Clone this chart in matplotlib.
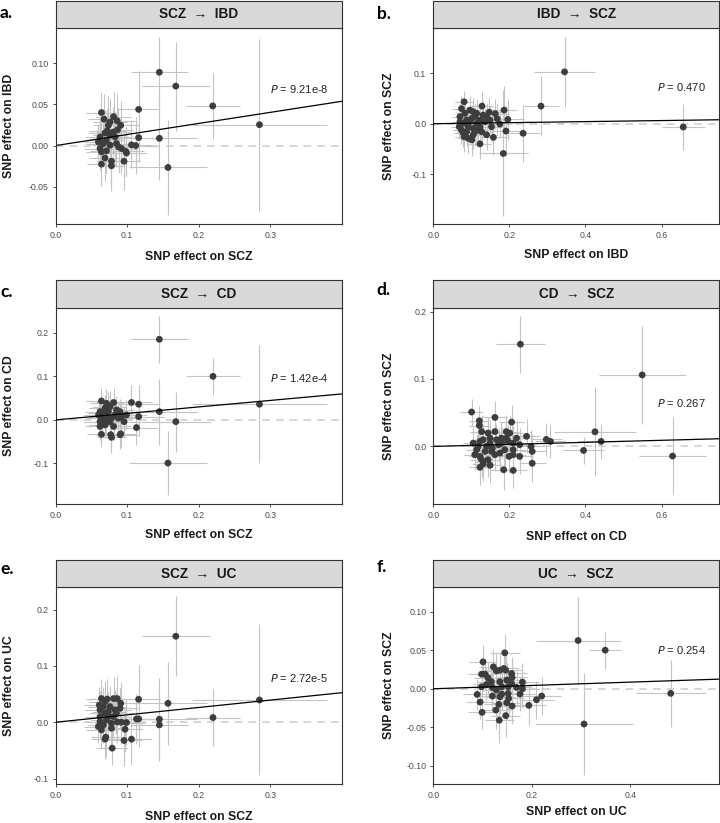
import matplotlib
matplotlib.use("Agg")
import matplotlib.pyplot as plt
import numpy as np

plt.rcParams['font.family'] = ['Liberation Sans', 'DejaVu Sans']

# ---- data ----
# a. SCZ -> IBD
a_x = [0.145, 0.168, 0.2196, 0.285, 0.157, 0.145, 0.116, 0.116, 0.106, 0.112, 0.098, 0.099, 0.0955, 0.091,
       0.064, 0.078, 0.078, 0.064, 0.069, 0.081, 0.086, 0.0865, 0.0676, 0.0737, 0.076, 0.072, 0.062, 0.0597,
       0.062, 0.0667, 0.071, 0.085, 0.088, 0.092, 0.076, 0.083, 0.069, 0.0807, 0.064, 0.071, 0.076, 0.062]
a_y = [0.0888, 0.072, 0.048, 0.0253, -0.0265, 0.0088, 0.0438, 0.0096, 0.0008, 0.0, -0.007, -0.009, -0.019, 0.0245,
       0.040, -0.019, -0.0245, -0.0225, -0.015, 0.035, 0.030, 0.019, 0.032, 0.0245, 0.0285, 0.0177, 0.0104, 0.0044,
       -0.0036, 0.0024, 0.0064, 0.0024, -0.0016, -0.0036, 0.0004, 0.0104, 0.0153, 0.0165, -0.0076, -0.0064, 0.0124, 0.0064]
a_xe = [0.040, 0.048, 0.038, 0.095, 0.054, 0.053, 0.030, 0.035, 0.028, 0.030, 0.025, 0.028, 0.022, 0.025,
        0.022, 0.020, 0.018, 0.020, 0.022, 0.024, 0.025, 0.022, 0.023, 0.020, 0.024, 0.026, 0.021, 0.020,
        0.022, 0.024, 0.025, 0.026, 0.024, 0.022, 0.025, 0.024, 0.022, 0.025, 0.021, 0.023, 0.024, 0.020]
a_ye = [0.043, 0.054, 0.040, 0.104, 0.058, 0.050, 0.047, 0.030, 0.028, 0.035, 0.030, 0.028, 0.035, 0.030,
        0.025, 0.028, 0.030, 0.026, 0.028, 0.030, 0.032, 0.026, 0.030, 0.035, 0.028, 0.026, 0.024, 0.022,
        0.026, 0.025, 0.030, 0.028, 0.032, 0.030, 0.027, 0.030, 0.028, 0.030, 0.025, 0.027, 0.026, 0.023]

# b. IBD -> SCZ
b_x = [0.345, 0.283, 0.657, 0.236, 0.184, 0.191, 0.196, 0.186, 0.158, 0.163, 0.128, 0.081, 0.1225, 0.140,
       0.147, 0.168, 0.175, 0.153,
       0.070, 0.074, 0.068, 0.079, 0.092, 0.101, 0.105, 0.0875, 0.083, 0.096, 0.109, 0.114, 0.1225, 0.118,
       0.105, 0.079, 0.092, 0.070, 0.101, 0.114, 0.131, 0.136, 0.127, 0.0875, 0.081, 0.109, 0.140, 0.149,
       0.096, 0.074, 0.1225, 0.105]
b_y = [0.103, 0.035, -0.0066, -0.019, -0.059, -0.0145, 0.0086, 0.027, -0.027, 0.020, 0.035, 0.0436, -0.040, -0.022,
       0.023, 0.010, -0.0007, -0.006,
       0.014, 0.030, -0.006, -0.019, -0.029, -0.032, -0.022, 0.0073, 0.0205, 0.027, 0.0139, 0.0007, 0.0073, -0.0125,
       -0.0092, 0.0007, -0.006, 0.004, 0.0106, 0.0205, 0.0172, 0.004, -0.0158, -0.0158, -0.0257, -0.0158, 0.0139, 0.0073,
       0.004, -0.0125, -0.006, 0.0238]
b_xe = [0.081, 0.048, 0.057, 0.045, 0.064, 0.040, 0.042, 0.035, 0.035, 0.035, 0.030, 0.025, 0.028, 0.030,
        0.030, 0.032, 0.030, 0.028,
        0.022, 0.024, 0.022, 0.025, 0.026, 0.028, 0.027, 0.025, 0.024, 0.026, 0.027, 0.028, 0.029, 0.028,
        0.026, 0.024, 0.025, 0.022, 0.026, 0.028, 0.030, 0.030, 0.029, 0.025, 0.024, 0.027, 0.031, 0.032,
        0.026, 0.023, 0.028, 0.026]
b_ye = [0.070, 0.060, 0.045, 0.057, 0.125, 0.050, 0.040, 0.048, 0.035, 0.030, 0.030, 0.022, 0.030, 0.030,
        0.028, 0.030, 0.028, 0.030,
        0.025, 0.026, 0.024, 0.028, 0.030, 0.032, 0.028, 0.026, 0.027, 0.028, 0.026, 0.027, 0.028, 0.030,
        0.028, 0.025, 0.027, 0.024, 0.027, 0.028, 0.027, 0.028, 0.029, 0.028, 0.030, 0.029, 0.027, 0.028,
        0.026, 0.027, 0.028, 0.027]

# c. SCZ -> CD
c_x = [0.145, 0.220, 0.285, 0.157, 0.168, 0.145, 0.106, 0.116, 0.116, 0.113, 0.0956, 0.099, 0.090, 0.091,
       0.078, 0.077, 0.064,
       0.064, 0.071, 0.081, 0.062, 0.060, 0.062, 0.062, 0.069, 0.076, 0.081, 0.071, 0.083, 0.085, 0.090,
       0.069, 0.076, 0.0667, 0.0737, 0.0876, 0.092, 0.078, 0.064, 0.071, 0.0737]
c_y = [0.185, 0.100, 0.036, -0.099, -0.004, 0.019, 0.040, 0.036, 0.0076, -0.0176, -0.004, 0.0115, -0.034, -0.032,
       -0.040, -0.034, -0.033,
       0.0435, 0.038, 0.040, 0.019, 0.0115, -0.004, -0.015, -0.0115, -0.004, -0.015, 0.0076, 0.0115, 0.023, 0.019,
       0.027, 0.0305, 0.0153, 0.019, 0.0038, 0.0076, 0.0038, 0.0038, -0.004, 0.0305]
c_xe = [0.040, 0.038, 0.095, 0.054, 0.049, 0.053, 0.028, 0.030, 0.035, 0.030, 0.022, 0.028, 0.025, 0.022,
        0.020, 0.020, 0.020,
        0.022, 0.023, 0.024, 0.021, 0.020, 0.022, 0.021, 0.023, 0.024, 0.024, 0.025, 0.024, 0.025, 0.025,
        0.022, 0.023, 0.022, 0.024, 0.025, 0.026, 0.024, 0.021, 0.023, 0.023]
c_ye = [0.054, 0.042, 0.135, 0.073, 0.069, 0.076, 0.040, 0.045, 0.045, 0.040, 0.035, 0.035, 0.032, 0.030,
        0.035, 0.032, 0.030,
        0.030, 0.032, 0.034, 0.028, 0.026, 0.028, 0.030, 0.030, 0.031, 0.032, 0.030, 0.032, 0.033, 0.030,
        0.031, 0.035, 0.028, 0.030, 0.031, 0.030, 0.029, 0.027, 0.030, 0.033]

# d. CD -> SCZ
d_x = [0.229, 0.549, 0.629, 0.425, 0.441, 0.395, 0.308, 0.297, 0.260, 0.260, 0.257, 0.245, 0.210, 0.185,
       0.206, 0.1006, 0.162, 0.121, 0.121,
       0.127, 0.144, 0.162, 0.192, 0.201, 0.192, 0.131, 0.149, 0.166, 0.105, 0.118, 0.140, 0.155, 0.1715,
       0.180, 0.210, 0.227, 0.109, 0.1225, 0.127, 0.144, 0.162, 0.175, 0.199, 0.210, 0.227, 0.131, 0.149,
       0.1225, 0.153, 0.114, 0.136, 0.188, 0.179, 0.219, 0.149, 0.1225, 0.197, 0.210]
d_y = [0.1516, 0.106, -0.0143, 0.0217, 0.0074, -0.006, 0.0074, 0.0104, -0.025, -0.0074, 0.0, 0.015, -0.0356, -0.0346,
       0.036, 0.051, 0.043, 0.038, 0.031,
       0.022, 0.0198, 0.022, 0.022, 0.0198, 0.0123, 0.0099, 0.0123, 0.0099, 0.0049, 0.0, 0.0, -0.0025, 0.0025,
       0.0049, 0.0049, 0.0025, -0.0123, -0.0148, -0.0198, -0.0198, -0.0123, -0.0099, -0.0148, -0.0123, -0.0148, -0.026, -0.028,
       -0.031, -0.0074, -0.0049, -0.0074, -0.0049, 0.0123, 0.0123, 0.0049, 0.0074, 0.0074, -0.0049]
d_xe = [0.064, 0.114, 0.087, 0.107, 0.060, 0.055, 0.040, 0.040, 0.035, 0.035, 0.035, 0.035, 0.035, 0.035,
        0.032, 0.030, 0.032, 0.028, 0.028,
        0.030, 0.030, 0.032, 0.033, 0.034, 0.033, 0.030, 0.031, 0.032, 0.028, 0.029, 0.030, 0.031, 0.032,
        0.033, 0.034, 0.035, 0.028, 0.029, 0.030, 0.030, 0.031, 0.032, 0.033, 0.034, 0.035, 0.030, 0.031,
        0.029, 0.031, 0.028, 0.030, 0.033, 0.032, 0.034, 0.031, 0.029, 0.033, 0.034]
d_ye = [0.042, 0.073, 0.058, 0.066, 0.026, 0.020, 0.025, 0.025, 0.028, 0.026, 0.025, 0.025, 0.026, 0.030,
        0.025, 0.020, 0.025, 0.022, 0.022,
        0.025, 0.024, 0.025, 0.024, 0.025, 0.024, 0.023, 0.024, 0.024, 0.022, 0.023, 0.024, 0.024, 0.025,
        0.024, 0.025, 0.025, 0.023, 0.024, 0.025, 0.025, 0.024, 0.024, 0.025, 0.025, 0.026, 0.025, 0.026,
        0.026, 0.024, 0.023, 0.024, 0.025, 0.024, 0.025, 0.024, 0.023, 0.024, 0.025]

# e. SCZ -> UC
e_x = [0.168, 0.285, 0.220, 0.157, 0.145, 0.145, 0.116, 0.113, 0.116, 0.106, 0.0956, 0.097, 0.099, 0.092,
       0.0862, 0.079, 0.070, 0.069,
       0.064, 0.072, 0.081, 0.086, 0.091, 0.090, 0.061, 0.062, 0.0667, 0.076, 0.083, 0.069, 0.0737, 0.062,
       0.0597, 0.064, 0.062, 0.078, 0.078, 0.071, 0.0807, 0.085, 0.0667, 0.0737, 0.069]
e_y = [0.1526, 0.0395, 0.0083, 0.0336, 0.0053, -0.0047, 0.0407, 0.0059, 0.0059, -0.030, -0.0324, -0.0124, -0.0006, 0.0,
       0.0006, -0.046, -0.0265, -0.030,
       0.042, 0.041, 0.042, 0.042, 0.0336, 0.0247, 0.0306, 0.0218, 0.0277, 0.0277, 0.0218, 0.0159, 0.010, 0.010,
       -0.0077, -0.0136, 0.0012, -0.0018, -0.0106, 0.0041, 0.010, 0.0159, -0.0047, 0.0189, 0.0365]
e_xe = [0.048, 0.095, 0.038, 0.054, 0.053, 0.040, 0.030, 0.030, 0.035, 0.028, 0.025, 0.025, 0.026, 0.025,
        0.024, 0.022, 0.020, 0.020,
        0.022, 0.023, 0.024, 0.025, 0.025, 0.025, 0.021, 0.021, 0.022, 0.023, 0.024, 0.022, 0.023, 0.021,
        0.020, 0.021, 0.021, 0.023, 0.023, 0.022, 0.024, 0.024, 0.022, 0.023, 0.022]
e_ye = [0.071, 0.134, 0.050, 0.074, 0.074, 0.060, 0.060, 0.045, 0.050, 0.045, 0.045, 0.040, 0.040, 0.038,
        0.038, 0.030, 0.035, 0.035,
        0.035, 0.036, 0.038, 0.040, 0.038, 0.036, 0.032, 0.033, 0.035, 0.036, 0.036, 0.034, 0.035, 0.032,
        0.030, 0.032, 0.031, 0.035, 0.034, 0.034, 0.036, 0.036, 0.033, 0.035, 0.036]

# f. UC -> SCZ
f_x = [0.294, 0.349, 0.482, 0.306, 0.220, 0.2095, 0.194, 0.181, 0.181, 0.145, 0.101, 0.134, 0.147, 0.133,
       0.127, 0.099, 0.095, 0.089,
       0.098, 0.105, 0.122, 0.128, 0.135, 0.143, 0.147, 0.159, 0.160, 0.149, 0.169, 0.176, 0.159, 0.152,
       0.152, 0.153, 0.149, 0.160, 0.135, 0.139, 0.139, 0.135, 0.120, 0.118, 0.108, 0.098, 0.120, 0.128, 0.111]
f_y = [0.0628, 0.0502, -0.006, -0.0459, -0.0095, -0.0143, -0.0216, 0.0, 0.0087, 0.0468, 0.035, -0.041, -0.035, -0.0203,
       -0.0277, -0.0307, -0.0173, -0.0074,
       0.019, 0.019, 0.0286, 0.0234, 0.0242, 0.0264, 0.0242, 0.0199, 0.0147, 0.0113, 0.0017, -0.0069, 0.0069, 0.0026,
       -0.0061, -0.0126, -0.0182, -0.0225, 0.0091, 0.0026, -0.0069, -0.0104, 0.0017, 0.0091, 0.0056, 0.0026, -0.0095, -0.0017, 0.0143]
f_xe = [0.085, 0.033, 0.071, 0.100, 0.040, 0.035, 0.035, 0.033, 0.033, 0.030, 0.028, 0.030, 0.030, 0.030,
        0.030, 0.028, 0.028, 0.028,
        0.028, 0.028, 0.029, 0.030, 0.030, 0.030, 0.031, 0.031, 0.031, 0.030, 0.032, 0.032, 0.031, 0.031,
        0.031, 0.031, 0.030, 0.031, 0.030, 0.030, 0.030, 0.030, 0.029, 0.029, 0.028, 0.028, 0.029, 0.029, 0.028]
f_ye = [0.057, 0.024, 0.044, 0.067, 0.025, 0.025, 0.025, 0.025, 0.025, 0.025, 0.022, 0.030, 0.028, 0.025,
        0.025, 0.022, 0.022, 0.020,
        0.020, 0.020, 0.022, 0.022, 0.022, 0.023, 0.023, 0.022, 0.022, 0.022, 0.022, 0.022, 0.022, 0.022,
        0.022, 0.023, 0.023, 0.023, 0.022, 0.022, 0.022, 0.022, 0.021, 0.021, 0.021, 0.020, 0.021, 0.021, 0.021]

titles = ["SCZ  \u2192  IBD", "IBD  \u2192  SCZ", "SCZ  \u2192  CD", "CD  \u2192  SCZ", "SCZ  \u2192  UC", "UC  \u2192  SCZ"]
letters = ["a.", "b.", "c.", "d.", "e.", "f."]
xlabels = ["SNP effect on SCZ", "SNP effect on IBD", "SNP effect on SCZ", "SNP effect on CD",
           "SNP effect on SCZ", "SNP effect on UC"]
ylabels = ["SNP effect on IBD", "SNP effect on SCZ", "SNP effect on CD", "SNP effect on SCZ",
           "SNP effect on UC", "SNP effect on SCZ"]
pvals = ["9.21e-8", "0.470", "1.42e-4", "0.267", "2.72e-5", "0.254"]
slopes = [0.134, 0.0105, 0.149, 0.0151, 0.131, 0.0216]
xlims = [(0, 0.4), (0, 0.751), (0, 0.4), (0, 0.751), (0, 0.4), (0, 0.58)]
ylims = [(-0.095, 0.143), (-0.199, 0.191), (-0.193, 0.258), (-0.0854, 0.206), (-0.1096, 0.240), (-0.124, 0.1325)]
xticks = [[0, 0.1, 0.2, 0.3], [0, 0.2, 0.4, 0.6], [0, 0.1, 0.2, 0.3], [0, 0.2, 0.4, 0.6], [0, 0.1, 0.2, 0.3], [0, 0.2, 0.4]]
yticks = [[-0.05, 0, 0.05, 0.10], [-0.1, 0, 0.1], [-0.1, 0, 0.1, 0.2], [0, 0.1, 0.2], [-0.1, 0, 0.1, 0.2],
          [-0.10, -0.05, 0, 0.05, 0.10]]
ydec = [2, 1, 1, 1, 1, 2]
p_y = [0.068, 0.0733, 0.0954, 0.064, 0.079, 0.050]

series = [(a_x, a_y, a_xe, a_ye), (b_x, b_y, b_xe, b_ye), (c_x, c_y, c_xe, c_ye),
          (d_x, d_y, d_xe, d_ye), (e_x, e_y, e_xe, e_ye), (f_x, f_y, f_xe, f_ye)]

# ---- layout in pixels ----
W, H = 720, 823
lefts = [55.7, 433.3]
rights = [341.7, 719.0]
strip_tops = [1, 280, 560]
strip_bots = [27.5, 307.5, 587]
ax_bots = [224, 504, 784]
xlab_y = [257, 255, 535, 536.7, 816.7, 811.7]
ylab_x = [9.3, 389.3]
letter_y = [13, 14, 292, 290, 569, 567]
letter_x = [0, 376.7]

fig = plt.figure(figsize=(W / 100, H / 100), dpi=100)


def box(l, r, t, b):
    return fig.add_axes([l / W, 1 - b / H, (r - l) / W, (b - t) / H])


for i in range(6):
    row, col = i // 2, i % 2
    l, r = lefts[col], rights[col]
    ax = box(l, r, strip_bots[row], ax_bots[row])
    st = box(l, r, strip_tops[row], strip_bots[row])

    x, y, xe, ye = [np.array(v) for v in series[i]]
    ax.errorbar(x, y, xerr=xe, yerr=ye, fmt='none', ecolor='#c4c4c4', elinewidth=0.8, capsize=0, zorder=1)
    ax.axhline(0, color='#cccccc', lw=1.1, ls=(0, (5, 4)), zorder=2)
    ax.scatter(x, y, s=24, color='#3d3d3d', edgecolors='none', zorder=3)
    xx = np.array(xlims[i])
    ax.plot(xx, slopes[i] * xx, color='black', lw=0.9, zorder=4)

    ax.set_xlim(*xlims[i])
    ax.set_ylim(*ylims[i])
    ax.set_xticks(xticks[i])
    ax.set_xticklabels(["%.1f" % v for v in xticks[i]])
    ax.set_yticks(yticks[i])
    ax.set_yticklabels([("%." + str(ydec[i]) + "f") % v for v in yticks[i]])
    ax.tick_params(labelsize=6.3, labelcolor='#4d4d4d', length=2.5, width=0.6, color='#333333', pad=2.5)
    for sp in ax.spines.values():
        sp.set_linewidth(0.8)
        sp.set_color('#333333')

    ax.text(0.955, p_y[i], "$P$ = " + pvals[i], transform=ax.get_yaxis_transform(),
            ha='right', va='center', fontsize=8, color='#222222')

    st.set_facecolor('#d9d9d9')
    st.set_xticks([])
    st.set_yticks([])
    for sp in st.spines.values():
        sp.set_linewidth(0.8)
        sp.set_color('#333333')
    st.text(0.5, 0.5, titles[i], ha='center', va='center', fontsize=9.8, fontweight='bold',
            color='#1a1a1a', transform=st.transAxes)

    fig.text((l + r) / 2 / W, 1 - xlab_y[i] / H, xlabels[i], ha='center', va='center',
             fontsize=8.8, fontweight='bold', color='#1a1a1a')
    fig.text(ylab_x[col] / W, 1 - (strip_bots[row] + ax_bots[row]) / 2 / H, ylabels[i], rotation=90,
             ha='center', va='center', fontsize=8.8, fontweight='bold', color='#1a1a1a')
    fig.text(letter_x[col] / W, 1 - letter_y[i] / H, letters[i], ha='left', va='center',
             fontsize=12.5, fontweight='bold', family=['Lato', 'DejaVu Sans'])

fig.savefig("out.png", dpi=100)
